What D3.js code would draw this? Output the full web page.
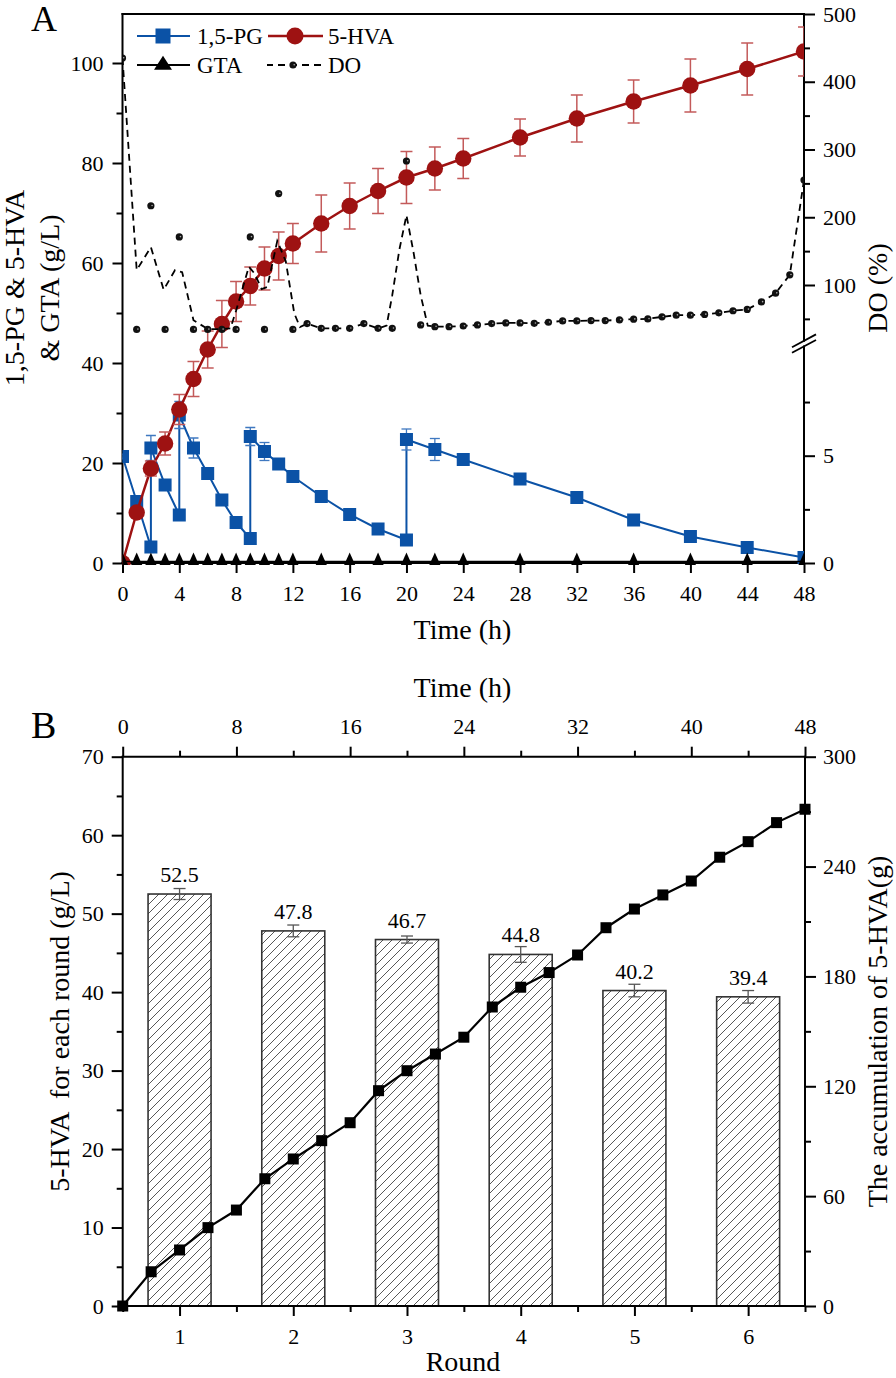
<!DOCTYPE html>
<html><head><meta charset="utf-8">
<script src="https://cdn.jsdelivr.net/npm/d3@7"></script>
<style>body{margin:0;background:#fff} svg{display:block}</style>
</head><body><svg id="c" width="896" height="1378"></svg>
<script>
// ---------- DATA: panel A ----------
const pgTime  = [0,1,2,2,3,4,4,5,6,7,8,9,9,10,11,12,14,16,18,20,20,22,24,28,32,36,40,44,48];
const pgValue = [21.3,12.3,3.2,23,15.6,9.6,29.6,23,17.9,12.6,8.1,4.9,25.3,22.3,19.8,17.3,13.3,9.7,6.8,4.6,24.7,22.7,20.7,16.8,13.1,8.6,5.3,3.1,1.1];
const pgError = [0.5,1,0.5,2.5,1,0.5,2.7,2,1,0.8,0.5,0.5,1.8,1.8,1,0.8,0.8,0.8,0.7,0.5,2.1,2.2,1,0.8,0.8,0.5,0.5,0.5,0.3];
const hvaTime  = [0,1,2,3,4,5,6,7,8,9,10,11,12,14,16,18,20,22,24,28,32,36,40,44,48];
const hvaValue = [0,10.1,18.9,23.9,30.7,36.8,42.7,47.8,52.3,55.4,58.9,61.4,63.9,67.9,71.4,74.4,77.1,78.9,80.9,85.1,88.9,92.3,95.5,98.8,102.3];
const hvaError = [0,0.8,1.5,2.3,3,3.5,3.7,4.7,4,3.8,4.3,4.8,4,5.7,4.6,4.5,5.2,4.3,4,3.7,4.7,4.3,5.3,5.2,4.9];
const gtaTime  = [0,1,2,3,4,5,6,7,8,9,10,11,12,14,16,18,20,22,24,28,32,36,40,44,48];
const gtaValue = [0.3,0.3,0.3,0.3,0.3,0.3,0.3,0.3,0.3,0.3,0.3,0.3,0.3,0.3,0.3,0.3,0.3,0.3,0.3,0.3,0.3,0.3,0.3,0.3,0.3];
const doLineTime  = [0,1,2,2.9,3.7,4.2,5,6,7,7.6,8,8.9,9.3,9.8,10.2,10.9,11.5,12.1,12.5,13,14,15,16,17,18,18.6,19,19.5,20,20.5,21,21.5,22,23,24,25,26,27,28,29,30,31,32,33,34,35,36,37,38,39,40,41,42,43,44,45,46,47,48];
const doLineValue = [435,122,156,93,122,119,48,35,35,36,62,127,117,94,97,165,135,58,38,43,36,36,36,43,36,40,85,152,203,148,85,40,38.5,38.5,39.5,41,43,44,44,43.5,45,47,47,47.5,47.5,48.5,49.5,50,53,55.5,55.5,56.5,59,62,64,75,88,115,255];
const doDotTime  = [0,1,2,3,4,5,6,7,8,9,10,11,12,13,14,15,16,17,18,19,20,21,22,23,24,25,26,27,28,29,30,31,32,33,34,35,36,37,38,39,40,41,42,43,44,45,46,47,48];
const doDotValue = [435,34.5,217,34.5,171,34.5,34.5,34.5,34.5,171,34.5,235,34.5,43,36,36,36,43,36,36,283,41,38.5,38.5,39.5,41,43,44,44,43.5,45,47,47,47.5,47.5,48.5,49.5,50,53,55.5,55.5,56.5,59,62,64,75,88,115,255];
const aTimeTicks = [0,4,8,12,16,20,24,28,32,36,40,44,48];
const aLeftTicks = [0,20,40,60,80,100];
const aLeftMinor = [10,30,50,70,90];
const aDoTicks = [100,200,300,400,500];
const aDoMinor = [50,150,250,350,450];
const aLowTicks = [0,5];
const aLowMinor = [2.5,7.5];
// ---------- DATA: panel B ----------
const rounds = [1,2,3,4,5,6];
const roundValue = [52.5,47.8,46.7,44.8,40.2,39.4];
const roundError = [0.7,0.75,0.45,1.0,0.8,0.8];
const accTime  = [0,2,4,6,8,10,12,14,16,18,20,22,24,26,28,30,32,34,36,38,40,42,44,46,48];
const accValue = [0,18.7,30.6,42.8,52.4,69.5,80.3,90.3,100.1,117.6,128.5,137.6,146.8,163.3,174.1,182.1,191.7,206.6,216.8,224.5,232.1,245.1,253.6,264,271.3];
const bTopTicks = [0,8,16,24,32,40,48];
const bTopMinor = [4,12,20,28,36,44];
const bLeftTicks = [0,10,20,30,40,50,60,70];
const bLeftMinor = [5,15,25,35,45,55,65];
const bRightTicks = [0,60,120,180,240,300];
const bRightMinor = [30,90,150,210,270];
const bRoundMinor = [0.5,1.5,2.5,3.5,4.5,5.5,6.5];

// ---------- DRAW ----------
const F = '"Liberation Serif","Times New Roman",serif';
const svg = d3.select('#c');
const BLUE = '#0b52a6', BLUE_E = '#3f78c0', RED = '#9e1212', RED_E = '#c35a5a';
const TFS = 28;

function styleAxis(g, fs){
  g.attr('font-family', F).attr('font-size', fs||22);
  g.select('.domain').remove();
  g.selectAll('.tick line').attr('stroke','#000').attr('stroke-width',2);
  g.selectAll('.tick text').attr('fill','#000');
}
function hline(g,x1,x2,y){ g.append('line').attr('x1',x1).attr('x2',x2).attr('y1',y).attr('y2',y).attr('stroke','#000').attr('stroke-width',2).attr('stroke-linecap','square'); }
function vline(g,x,y1,y2){ g.append('line').attr('x1',x).attr('x2',x).attr('y1',y1).attr('y2',y2).attr('stroke','#000').attr('stroke-width',2).attr('stroke-linecap','square'); }

// ===== Panel A =====
const xA = d3.scaleLinear().domain([0,48]).range([122.5,804]);
const yA = d3.scaleLinear().domain([0,110]).range([563,13]);
const yDO = d3.scaleLinear().domain([0,500]).range([352.75,14]);
const yLow = d3.scaleLinear().domain([0,10]).range([563,348.4]);
const gA = svg.append('g');

styleAxis(gA.append('g').attr('transform','translate(0,563)').call(d3.axisBottom(xA).tickValues(aTimeTicks).tickSize(10).tickPadding(12).tickFormat(d3.format('d'))));
styleAxis(gA.append('g').attr('transform','translate(122.5,0)').call(d3.axisLeft(yA).tickValues(aLeftTicks).tickSize(10).tickPadding(9).tickFormat(d3.format('d'))));
styleAxis(gA.append('g').attr('transform','translate(122.5,0)').call(d3.axisLeft(yA).tickValues(aLeftMinor).tickSize(6).tickFormat('')));
styleAxis(gA.append('g').attr('transform','translate(804,0)').call(d3.axisRight(yDO).tickValues(aDoTicks).tickSize(11).tickPadding(8).tickFormat(d3.format('d'))));
styleAxis(gA.append('g').attr('transform','translate(804,0)').call(d3.axisRight(yDO).tickValues(aDoMinor).tickSize(6).tickFormat('')));
styleAxis(gA.append('g').attr('transform','translate(804,0)').call(d3.axisRight(yLow).tickValues(aLowTicks).tickSize(11).tickPadding(8).tickFormat(d3.format('d'))));
styleAxis(gA.append('g').attr('transform','translate(804,0)').call(d3.axisRight(yLow).tickValues(aLowMinor).tickSize(6).tickFormat('')));

hline(gA,122.5,804,14); hline(gA,122.5,804,563);
vline(gA,122.5,14,563);
vline(gA,804,14,340.8); vline(gA,804,346.4,563);
[340.8,346.4].forEach(y=>{
  gA.append('line').attr('x1',792).attr('x2',816).attr('y1',y+6.4).attr('y2',y-6.4).attr('stroke','#000').attr('stroke-width',1.8);
});

// clip
svg.append('defs').append('clipPath').attr('id','clipA').append('rect').attr('x',122.5).attr('y',14).attr('width',804-122.5).attr('height',549+2);
const dA = gA.append('g').attr('clip-path','url(#clipA)');

const pg = pgTime.map((t,i)=>({t, v:pgValue[i], e:pgError[i]}));
const hva = hvaTime.map((t,i)=>({t, v:hvaValue[i], e:hvaError[i]}));
const gta = gtaTime.map((t,i)=>({t, v:gtaValue[i]}));
const doL = doLineTime.map((t,i)=>({t, v:doLineValue[i]}));
const doD = doDotTime.map((t,i)=>({t, v:doDotValue[i]}));

function errBars(g, data, x, y, color, cap, w){
  const eg = g.append('g').attr('stroke',color).attr('stroke-width',w);
  data.filter(d=>d.e>0).forEach(d=>{
    const cx = x(d.t), y1 = y(d.v-d.e), y2 = y(d.v+d.e);
    eg.append('line').attr('x1',cx).attr('x2',cx).attr('y1',y1).attr('y2',y2);
    eg.append('line').attr('x1',cx-cap/2).attr('x2',cx+cap/2).attr('y1',y1).attr('y2',y1);
    eg.append('line').attr('x1',cx-cap/2).attr('x2',cx+cap/2).attr('y1',y2).attr('y2',y2);
  });
}

// PG
dA.append('path').datum(pg).attr('d',d3.line().x(d=>xA(d.t)).y(d=>yA(d.v))).attr('fill','none').attr('stroke',BLUE).attr('stroke-width',2);
errBars(dA, pg, xA, yA, BLUE_E, 10, 1.3);
dA.append('g').selectAll('rect').data(pg).join('rect').attr('x',d=>xA(d.t)-6.5).attr('y',d=>yA(d.v)-6.5).attr('width',13).attr('height',13).attr('fill',BLUE);

// HVA
dA.append('path').datum(hva).attr('d',d3.line().x(d=>xA(d.t)).y(d=>yA(d.v))).attr('fill','none').attr('stroke',RED).attr('stroke-width',2.5);
errBars(dA, hva, xA, yA, RED_E, 12, 1.5);
dA.append('g').selectAll('circle').data(hva).join('circle').attr('cx',d=>xA(d.t)).attr('cy',d=>yA(d.v)).attr('r',8.2).attr('fill',RED);

// GTA
const tri = (w,h)=>`M0,${-2*h/3}L${w/2},${h/3}L${-w/2},${h/3}Z`;
dA.append('path').datum(gta).attr('d',d3.line().x(d=>xA(d.t)).y(d=>yA(d.v))).attr('fill','none').attr('stroke','#000').attr('stroke-width',1.5);
dA.append('g').selectAll('path').data(gta).join('path').attr('transform',d=>`translate(${xA(d.t)},${yA(d.v)})`).attr('d',tri(12,13.5)).attr('fill','#000');

// DO
dA.append('path').datum(doL).attr('d',d3.line().x(d=>xA(d.t)).y(d=>yDO(d.v))).attr('fill','none').attr('stroke','#000').attr('stroke-width',1.8).attr('stroke-dasharray','7,5');
const dotG = dA.append('g');
function doDot(g,x,y){
  g.append('circle').attr('cx',x).attr('cy',y).attr('r',3.6).attr('fill','#111');
  g.append('circle').attr('cx',x+1.2).attr('cy',y-0.3).attr('r',0.8).attr('fill','#aaa');
}
doD.forEach(d=>doDot(dotG, xA(d.t), yDO(d.v)));

// Legend
const lg = gA.append('g').attr('font-family',F).attr('font-size',23);
lg.append('line').attr('x1',137).attr('x2',190).attr('y1',36).attr('y2',36).attr('stroke',BLUE).attr('stroke-width',2);
lg.append('rect').attr('x',163-7.5).attr('y',36-7.5).attr('width',15).attr('height',15).attr('fill',BLUE);
lg.append('text').attr('x',197).attr('y',44).text('1,5-PG');
lg.append('line').attr('x1',268).attr('x2',323).attr('y1',36).attr('y2',36).attr('stroke',RED).attr('stroke-width',2.5);
lg.append('circle').attr('cx',295).attr('cy',36).attr('r',8.5).attr('fill',RED);
lg.append('text').attr('x',328).attr('y',44).text('5-HVA');
lg.append('line').attr('x1',137).attr('x2',190).attr('y1',65).attr('y2',65).attr('stroke','#000').attr('stroke-width',2);
lg.append('path').attr('transform','translate(163,65)').attr('d',tri(18,14)).attr('fill','#000');
lg.append('text').attr('x',197).attr('y',72.5).text('GTA');
lg.append('line').attr('x1',267).attr('x2',322).attr('y1',65).attr('y2',65).attr('stroke','#000').attr('stroke-width',1.8).attr('stroke-dasharray','7,5').attr('stroke-dashoffset',1);
doDot(lg,293,65);
lg.append('text').attr('x',328).attr('y',72.5).text('DO');

// titles A
const tA = gA.append('g').attr('font-family',F).attr('font-size',TFS).attr('fill','#000');
tA.append('text').attr('x',462.5).attr('y',639).attr('text-anchor','middle').text('Time (h)');
tA.append('text').attr('transform','translate(23.5,288) rotate(-90)').attr('text-anchor','middle').text('1,5-PG & 5-HVA');
tA.append('text').attr('transform','translate(59,288) rotate(-90)').attr('text-anchor','middle').text('& GTA (g/L)');
tA.append('text').attr('transform','translate(887,288) rotate(-90)').attr('text-anchor','middle').text('DO (%)');
svg.append('text').attr('x',31).attr('y',31).attr('font-family',F).attr('font-size',36).text('A');

// ===== Panel B =====
const xT = d3.scaleLinear().domain([0,48]).range([122.7,805]);
const xR = d3.scaleLinear().domain([0.5,6.5]).range([122.7,805]);
const yB = d3.scaleLinear().domain([0,70]).range([1306,756.7]);
const yB2 = d3.scaleLinear().domain([0,300]).range([1306,756.7]);
const gB = svg.append('g');

const defs = svg.select('defs');
const pat = defs.append('pattern').attr('id','hatch').attr('patternUnits','userSpaceOnUse').attr('width',9).attr('height',9);
pat.append('path').attr('d','M-1,1L1,-1M0,9L9,0M8,10L10,8').attr('stroke','#444').attr('stroke-width',0.9);

styleAxis(gB.append('g').attr('transform','translate(0,756.7)').call(d3.axisTop(xT).tickValues(bTopTicks).tickSize(10).tickPadding(13).tickFormat(d3.format('d'))));
styleAxis(gB.append('g').attr('transform','translate(0,756.7)').call(d3.axisTop(xT).tickValues(bTopMinor).tickSize(6).tickFormat('')));
styleAxis(gB.append('g').attr('transform','translate(0,1306)').call(d3.axisBottom(xR).tickValues(rounds).tickSize(10).tickPadding(12).tickFormat(d3.format('d'))));
styleAxis(gB.append('g').attr('transform','translate(0,1306)').call(d3.axisBottom(xR).tickValues(bRoundMinor).tickSize(6).tickFormat('')));
styleAxis(gB.append('g').attr('transform','translate(122.7,0)').call(d3.axisLeft(yB).tickValues(bLeftTicks).tickSize(11).tickPadding(8).tickFormat(d3.format('d'))));
styleAxis(gB.append('g').attr('transform','translate(122.7,0)').call(d3.axisLeft(yB).tickValues(bLeftMinor).tickSize(6).tickFormat('')));
styleAxis(gB.append('g').attr('transform','translate(805,0)').call(d3.axisRight(yB2).tickValues(bRightTicks).tickSize(11).tickPadding(7).tickFormat(d3.format('d'))));
styleAxis(gB.append('g').attr('transform','translate(805,0)').call(d3.axisRight(yB2).tickValues(bRightMinor).tickSize(6).tickFormat('')));

// bars
const bw = 63;
const bars = rounds.map((r,i)=>({r, v:roundValue[i], e:roundError[i]}));
const bg = gB.append('g');
bars.forEach(d=>{
  const x0 = xR(d.r)-bw/2, y0 = yB(d.v), h = yB(0)-yB(d.v);
  bg.append('rect').attr('x',x0).attr('y',y0).attr('width',bw).attr('height',h).attr('fill','#fff');
  bg.append('rect').attr('x',x0).attr('y',y0).attr('width',bw).attr('height',h).attr('fill','url(#hatch)').attr('stroke','#333').attr('stroke-width',1.6);
});
errBars(bg, bars.map(d=>({t:d.r, v:d.v, e:d.e})), xR, yB, '#555', 12, 1.3);
gB.append('g').attr('font-family',F).attr('font-size',22).selectAll('text').data(bars).join('text')
  .attr('x',d=>xR(d.r)).attr('y',d=>yB(d.v)-12).attr('text-anchor','middle').text(d=>d.v.toFixed(1));

// accumulation line
const acc = accTime.map((t,i)=>({t, v:accValue[i]}));
gB.append('path').datum(acc).attr('d',d3.line().x(d=>xT(d.t)).y(d=>yB2(d.v))).attr('fill','none').attr('stroke','#000').attr('stroke-width',2.2);
gB.append('g').selectAll('rect').data(acc).join('rect').attr('x',d=>xT(d.t)-5.5).attr('y',d=>yB2(d.v)-5.5).attr('width',11).attr('height',11).attr('fill','#000');

// frame B
hline(gB,122.7,805,756.7); hline(gB,122.7,805,1306);
vline(gB,122.7,756.7,1306); vline(gB,805,756.7,1306);

// titles B
const tB = gB.append('g').attr('font-family',F).attr('font-size',TFS).attr('fill','#000');
tB.append('text').attr('x',462.5).attr('y',697).attr('text-anchor','middle').text('Time (h)');
tB.append('text').attr('x',463).attr('y',1371).attr('text-anchor','middle').text('Round');
tB.append('text').attr('transform','translate(68.5,1031.5) rotate(-90)').attr('text-anchor','middle').attr('xml:space','preserve').style('white-space','pre').text('5-HVA  for each round (g/L)');
tB.append('text').attr('transform','translate(887,1031.5) rotate(-90)').attr('text-anchor','middle').text('The accumulation of 5-HVA(g)');
svg.append('text').attr('x',31).attr('y',738).attr('font-family',F).attr('font-size',38).text('B');
</script></body></html>
